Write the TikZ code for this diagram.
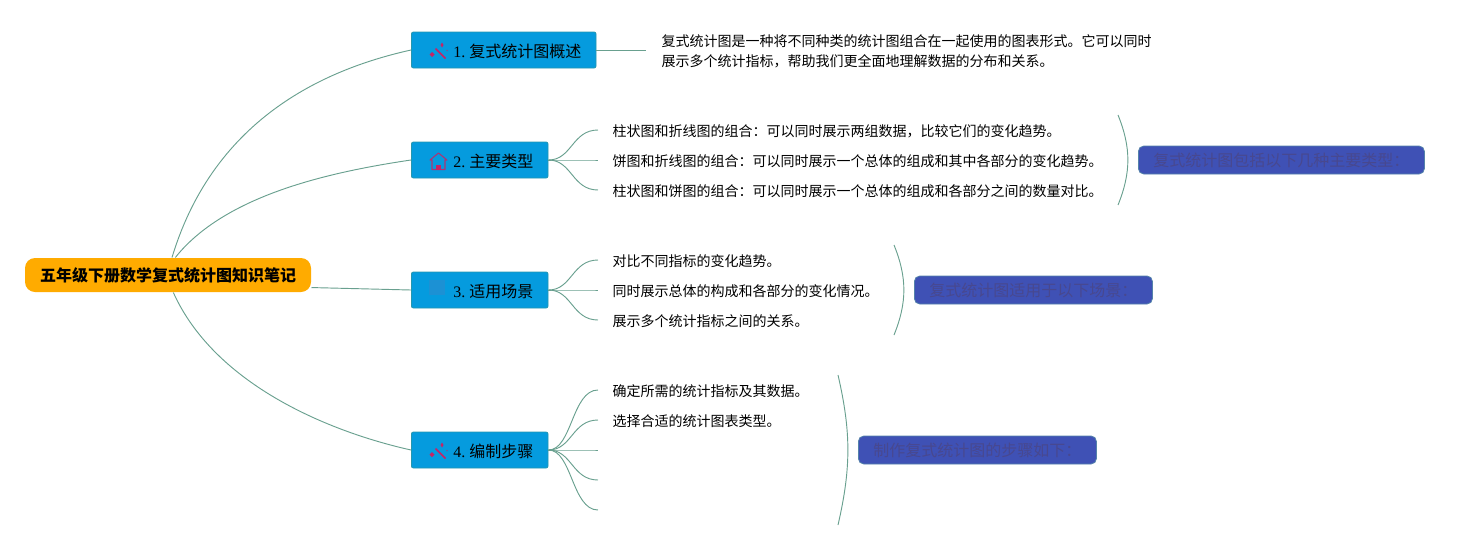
\documentclass[tikz,border=0pt]{standalone}
\usepackage{fontspec}
\frenchspacing
\setmainfont{Liberation Serif}
\newfontfamily\cjk{Noto Sans CJK SC}
\definecolor{linkcol}{RGB}{105,160,143}
\definecolor{topiccol}{RGB}{5,155,222}
\definecolor{topicedge}{RGB}{38,150,175}
\definecolor{notecol}{RGB}{63,81,181}
\definecolor{noteedge}{RGB}{84,130,170}
\definecolor{notetext}{RGB}{72,72,143}
\definecolor{iconcol}{RGB}{200,35,100}
\definecolor{blankicon}{RGB}{28,145,212}
\tikzset{every picture/.style={line width=0.75pt}}
\tikzset{
  rootbox/.style={fill={rgb,255:red,255;green,171;blue,0},rounded corners=7.5pt,minimum width=214.5pt,minimum height=25.5pt,inner sep=0pt,font=\fontsize{12pt}{15pt}\cjk\bfseries},
  topic/.style={draw=topicedge,fill=topiccol,rounded corners=1.5pt,anchor=west,minimum height=27pt,inner ysep=0pt,inner xsep=11pt,text height=11pt,text depth=0.5pt,line width=0.6pt,font=\fontsize{12pt}{15pt}\selectfont},
  leaf/.style={anchor=west,inner ysep=0pt,inner xsep=10.5pt,align=left,font=\fontsize{10.5pt}{15pt}\cjk},
  notebox/.style={draw=noteedge,fill=notecol,rounded corners=4pt,anchor=west,minimum height=21pt,inner ysep=0pt,inner xsep=11.25pt,line width=0.6pt,text=notetext,font=\fontsize{12pt}{15pt}\cjk},
  link/.style={draw=linkcol,line width=0.7pt},
  wand/.pic={
    \draw [iconcol,line width=1.3pt] (-3.5,-2) -- (6.5,8) ;
    \fill [iconcol] (3,-8) -- (4.5,-5.5) -- (3,-3) -- (1.5,-5.5) -- cycle ;
    \fill [iconcol] (-7,1.5) -- (-4.5,4) -- (-7,6.5) -- (-9.5,4) -- cycle ;
    \fill [iconcol!50!topiccol] (8,0) circle (1) ;
  },
  homeicon/.pic={
    \draw [iconcol!85!topiccol,line width=0.8pt,line join=round] (-6.5,8) -- (-6.5,-1.5) -- (-8.5,-1.5) -- (0,-8.5) -- (8.5,-1.5) -- (6.5,-1.5) -- (6.5,8) -- cycle ;
    \fill [iconcol] (-2.5,8) -- (-2.5,3) -- (2.5,3) -- (2.5,8) -- cycle ;
  },
}

\begin{document}
\begin{tikzpicture}[x=0.75pt,y=0.75pt,yscale=-1,xscale=1]
\useasboundingbox (0,0) rectangle (1470,550);

\node [rootbox] (root) at (168,275) {五年级下册数学复式统计图知识笔记};

\node [topic] (over) at (411,50) {\hspace*{20.5pt}1. {\cjk 复式统计图概述}};
\node [topic] (kinds) at (411,160) {\hspace*{20.5pt}2. {\cjk 主要类型}};
\node [topic] (scene) at (411,290) {\hspace*{20.5pt}3. {\cjk 适用场景}};
\node [topic] (steps) at (411,450) {\hspace*{20.5pt}4. {\cjk 编制步骤}};

\pic [transform shape] at (439,50.5) {wand};
\pic [transform shape] at (438.5,161.5) {homeicon};
\fill [blankicon] (429,280) rectangle (445,295);
\pic [transform shape] at (439,450.5) {wand};

\node [leaf] (overtext) at (647,51.5) {复式统计图是一种将不同种类的统计图组合在一起使用的图表形式。它可以同时\\展示多个统计指标，帮助我们更全面地理解数据的分布和关系。};

\node [leaf] (kindsa) at (598,131.5) {柱状图和折线图的组合：可以同时展示两组数据，比较它们的变化趋势。};
\node [leaf] (kindsb) at (598,161.5) {饼图和折线图的组合：可以同时展示一个总体的组成和其中各部分的变化趋势。};
\node [leaf] (kindsc) at (598,191.5) {柱状图和饼图的组合：可以同时展示一个总体的组成和各部分之间的数量对比。};

\node [leaf] (scenea) at (598,261.5) {对比不同指标的变化趋势。};
\node [leaf] (sceneb) at (598,291.5) {同时展示总体的构成和各部分的变化情况。};
\node [leaf] (scenec) at (598,321.5) {展示多个统计指标之间的关系。};

\node [leaf] (stepsa) at (598,391.5) {确定所需的统计指标及其数据。};
\node [leaf] (stepsb) at (598,421.5) {选择合适的统计图表类型。};
\coordinate (stepsc) at (598,450);
\coordinate (stepsd) at (598,480);
\coordinate (stepse) at (598,510);

\node [notebox] (kindsnote) at (1138,160) {复式统计图包括以下几种主要类型：};
\node [notebox] (scenenote) at (914,290) {复式统计图适用于以下场景：};
\node [notebox] (stepsnote) at (858,450) {制作复式统计图的步骤如下：};

% main branches
\draw [link] ([xshift=3pt]root.north) .. controls (215,115) and (330,68) .. (over.west) ;
\draw [link] ([xshift=5.5pt]root.north) .. controls (225,195) and (330,172) .. (kinds.west) ;
\draw [link] (root.-5.2) -- (scene.west) ;
\draw [link] ([xshift=4pt]root.south) .. controls (215,385) and (330,432) .. (steps.west) ;

% leaves
\draw [link] (over.east) -- (646,50) ;
\foreach \ypos in {130,160,190}
  \draw [link] (kinds.east) .. controls (572,160) and (572,\ypos) .. (598,\ypos) ;
\foreach \ypos in {260,290,320}
  \draw [link] (scene.east) .. controls (572,290) and (572,\ypos) .. (598,\ypos) ;
\foreach \ypos in {390,420,450,480,510}
  \draw [link] (steps.east) .. controls (572,450) and (572,\ypos) .. (598,\ypos) ;

% brackets
\coordinate (kindstop) at (1118,115);
\coordinate (kindsend) at (1118,205);
\coordinate (scenetop) at (894,245);
\coordinate (sceneend) at (894,335);
\coordinate (stepstop) at (838,375);
\coordinate (stepsend) at (838,525);
\draw [link] (kindstop) to [bend right=22] (kindsend) ;
\draw [link] (scenetop) to [bend right=22] (sceneend) ;
\draw [link] (stepstop) to [bend right=13] (stepsend) ;
\end{tikzpicture}
\end{document}
